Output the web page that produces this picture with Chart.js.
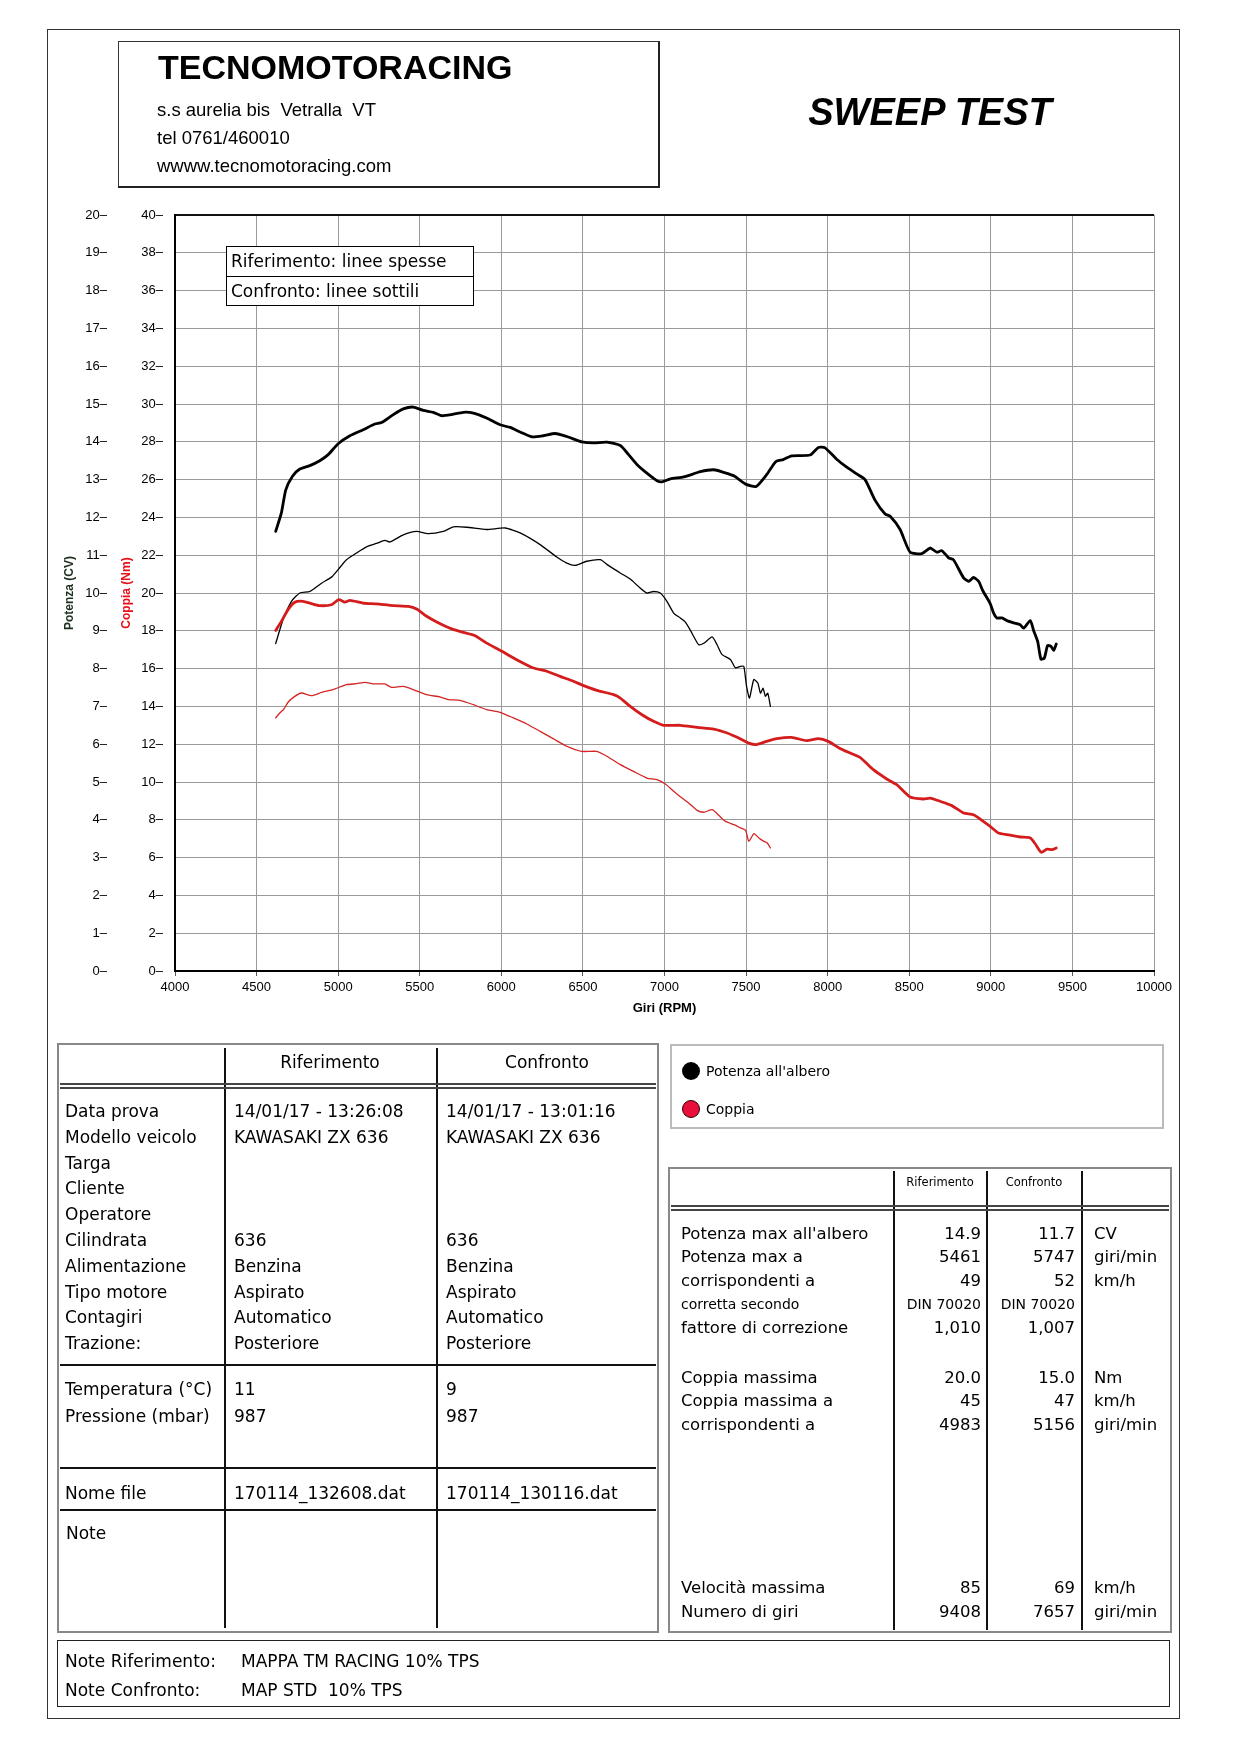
<!DOCTYPE html>
<html>
<head>
<meta charset="utf-8">
<script src="https://cdn.jsdelivr.net/npm/chart.js@4.4.0/dist/chart.umd.min.js"></script>
<style>
body { margin: 0; background: #fff; }
#page { position: relative; width: 1240px; height: 1754px; overflow: hidden; font-family: 'DejaVu Sans', sans-serif; color: #000; }
.t { position: absolute; white-space: pre; }
.b { position: absolute; box-sizing: border-box; }
#dyno { position: absolute; left: 50px; top: 195px; }
</style>
</head>
<body>
<div id="page"><canvas id="dyno" width="1129" height="829"></canvas></div>
<script>
// Riferimento (linee spesse)
const refPowerRpm = [4617,4652,4679,4720,4765,4826,4887,4939,5000,5072,5153,5225,5266,5338,5399,5460,5522,5583,5634,5696,5767,5829,5910,5992,6054,6115,6187,6258,6330,6401,6493,6565,6647,6729,6780,6831,6892,6954,6984,7036,7118,7220,7302,7364,7425,7497,7562,7626,7683,7728,7779,7892,7943,7984,8055,8117,8178,8229,8291,8352,8383,8444,8505,8577,8628,8669,8700,8741,8771,8833,8864,8894,8925,8951,8996,9017,9037,9068,9099,9140,9180,9201,9242,9262,9287,9307,9328,9348,9369,9385,9401];
const refPowerCv = [11.63,12.12,12.73,13.09,13.28,13.37,13.50,13.66,13.95,14.16,14.32,14.47,14.51,14.72,14.87,14.92,14.83,14.78,14.69,14.72,14.78,14.76,14.63,14.45,14.38,14.26,14.13,14.16,14.22,14.14,14.00,13.97,13.99,13.90,13.66,13.40,13.17,12.97,12.94,13.02,13.07,13.21,13.26,13.19,13.10,12.88,12.82,13.13,13.48,13.53,13.63,13.65,13.85,13.84,13.54,13.33,13.15,13.00,12.45,12.09,12.03,11.68,11.08,11.04,11.19,11.08,11.12,10.93,10.88,10.40,10.31,10.41,10.31,10.06,9.72,9.47,9.34,9.34,9.27,9.21,9.16,9.07,9.27,9.01,8.72,8.25,8.28,8.61,8.59,8.48,8.65];
const refTorqueRpm = [4617,4652,4693,4734,4785,4836,4887,4959,5004,5041,5072,5153,5235,5338,5430,5481,5542,5604,5696,5767,5839,5910,5992,6094,6197,6279,6360,6442,6504,6585,6688,6729,6790,6862,6933,6995,7097,7200,7302,7384,7466,7516,7562,7626,7687,7779,7871,7943,8004,8065,8127,8198,8280,8362,8423,8505,8587,8628,8689,8761,8833,8894,8945,8996,9047,9099,9180,9242,9273,9309,9344,9375,9401];
const refTorqueNm = [18.02,18.50,19.12,19.51,19.56,19.44,19.33,19.38,19.65,19.52,19.61,19.47,19.42,19.33,19.29,19.15,18.77,18.47,18.10,17.92,17.74,17.35,16.97,16.47,16.03,15.86,15.59,15.33,15.10,14.85,14.62,14.44,14.00,13.56,13.21,13.00,13.00,12.89,12.80,12.59,12.28,12.06,11.98,12.15,12.29,12.36,12.19,12.29,12.15,11.83,11.57,11.30,10.65,10.16,9.86,9.21,9.10,9.15,8.98,8.75,8.36,8.27,7.97,7.65,7.30,7.21,7.09,7.04,6.72,6.28,6.45,6.42,6.51];

// Confronto (linee sottili)
const confPowerRpm = [4617,4662,4714,4765,4826,4898,4959,5000,5051,5113,5174,5235,5286,5317,5399,5481,5552,5644,5706,5788,5910,6023,6115,6238,6340,6401,6452,6524,6606,6656,6729,6790,6851,6892,6933,6974,7015,7056,7097,7128,7159,7179,7210,7241,7292,7322,7353,7404,7435,7466,7486,7503,7521,7547,7572,7588,7604,7618,7633,7649];
const confPowerCv = [8.66,9.29,9.78,10.00,10.04,10.26,10.42,10.62,10.88,11.06,11.22,11.31,11.39,11.35,11.54,11.63,11.57,11.63,11.75,11.74,11.68,11.72,11.59,11.28,10.95,10.79,10.73,10.84,10.88,10.73,10.53,10.37,10.13,10.00,10.04,10.00,9.78,9.47,9.34,9.23,9.01,8.85,8.63,8.67,8.84,8.63,8.37,8.24,8.02,8.06,8.06,7.53,7.22,7.71,7.62,7.35,7.48,7.27,7.35,7.00];
const confTorqueRpm = [4617,4642,4667,4693,4734,4775,4836,4898,4969,5051,5113,5164,5215,5286,5327,5399,5460,5542,5624,5675,5747,5829,5910,5992,6074,6156,6238,6320,6401,6493,6585,6647,6729,6810,6892,6954,7005,7056,7107,7148,7200,7241,7292,7332,7373,7425,7466,7497,7517,7548,7578,7609,7630,7649];
const confTorqueNm = [13.39,13.65,13.86,14.22,14.53,14.71,14.57,14.74,14.89,15.15,15.20,15.27,15.19,15.19,15.01,15.06,14.89,14.62,14.50,14.36,14.32,14.09,13.83,13.69,13.39,13.07,12.68,12.28,11.89,11.62,11.62,11.36,10.92,10.56,10.21,10.12,9.89,9.51,9.15,8.89,8.50,8.40,8.54,8.24,7.92,7.74,7.57,7.44,6.86,7.27,7.04,6.86,6.77,6.51];

// Tabella prove
const infoLabels = ['Data prova','Modello veicolo','Targa','Cliente','Operatore','Cilindrata','Alimentazione','Tipo motore','Contagiri','Trazione:'];
const infoRef = ['14/01/17 - 13:26:08','KAWASAKI ZX 636','','','','636','Benzina','Aspirato','Automatico','Posteriore'];
const infoConf = ['14/01/17 - 13:01:16','KAWASAKI ZX 636','','','','636','Benzina','Aspirato','Automatico','Posteriore'];
const envLabels = ['Temperatura (°C)','Pressione (mbar)'];
const envRef = ['11','987'];
const envConf = ['9','987'];

// Risultati
const powerRows = [
    ["Potenza max all'albero", '14.9', '11.7', 'CV'],
    ['Potenza max a', '5461', '5747', 'giri/min'],
    ['corrispondenti a', '49', '52', 'km/h'],
    ['corretta secondo', 'DIN 70020', 'DIN 70020', ''],
    ['fattore di correzione', '1,010', '1,007', '']
];
const torqueRows = [
    ['Coppia massima', '20.0', '15.0', 'Nm'],
    ['Coppia massima a', '45', '47', 'km/h'],
    ['corrispondenti a', '4983', '5156', 'giri/min']
];
const speedRows = [
    ['Velocità massima', '85', '69', 'km/h'],
    ['Numero di giri', '9408', '7657', 'giri/min']
];

const page = document.getElementById('page');

function put(x, y, text, size, opt) {
    opt = opt || {};
    const d = document.createElement('div');
    const lh = Math.round(size * 1.3);
    d.className = 't';
    d.textContent = text;
    d.style.left = x + 'px';
    d.style.top = (y - lh / 2) + 'px';
    d.style.fontSize = size + 'px';
    d.style.lineHeight = lh + 'px';
    if (opt.font) d.style.fontFamily = opt.font;
    if (opt.bold) d.style.fontWeight = 'bold';
    if (opt.italic) d.style.fontStyle = 'italic';
    if (opt.color) d.style.color = opt.color;
    if (opt.z) d.style.zIndex = opt.z;
    if (opt.align === 'right') d.style.transform = 'translateX(-100%)';
    if (opt.align === 'center') d.style.transform = 'translateX(-50%)';
    page.appendChild(d);
}

function rect(x1, y1, x2, y2, css) {
    const d = document.createElement('div');
    d.className = 'b';
    d.style.left = x1 + 'px';
    d.style.top = y1 + 'px';
    d.style.width = (x2 - x1) + 'px';
    d.style.height = (y2 - y1) + 'px';
    Object.assign(d.style, css || {});
    page.appendChild(d);
    return d;
}

function hline(x1, x2, y, w, c) { return rect(x1, y, x2, y + w, { background: c || '#000' }); }
function vline(x, y1, y2, w, c) { return rect(x, y1, x + w, y2, { background: c || '#000' }); }

// Cornice esterna
rect(47, 29, 1180, 1719, { border: '1.5px solid #333' });

// Intestazione
rect(118, 41, 660, 188, { borderTop: '1px solid #333', borderLeft: '1px solid #333', borderRight: '2px solid #222', borderBottom: '2px solid #222' });
const arial = "'Liberation Sans', Arial, sans-serif";
put(158, 67, 'TECNOMOTORACING', 34, { font: arial, bold: true });
put(157, 110, 's.s aurelia bis  Vetralla  VT', 18.5, { font: arial });
put(157, 138, 'tel 0761/460010', 18.5, { font: arial });
put(157, 166, 'wwww.tecnomotoracing.com', 18.5, { font: arial });
put(930, 112, 'SWEEP TEST', 38, { font: arial, bold: true, italic: true, align: 'center' });

// Riquadro linee nel grafico
rect(226, 246, 474, 306, { border: '1px solid #000', background: '#fff', zIndex: 2 });
hline(226, 474, 276, 1, '#000').style.zIndex = 3;
put(231, 261, 'Riferimento: linee spesse', 17, { z: 4 });
put(231, 291, 'Confronto: linee sottili', 17, { z: 4 });

// Tabella sinistra
rect(57, 1043, 659, 1633, { border: '2px solid #888' });
vline(224, 1048, 1628, 1.5, '#111');
vline(436, 1048, 1628, 1.5, '#111');
hline(60, 656, 1083, 1.5, '#444');
hline(60, 656, 1087, 1.5, '#444');
hline(60, 656, 1364, 1.5, '#111');
hline(60, 656, 1467, 1.5, '#111');
hline(60, 656, 1509, 1.5, '#111');
put(330, 1062, 'Riferimento', 17, { align: 'center' });
put(547, 1062, 'Confronto', 17, { align: 'center' });
infoLabels.forEach((lab, i) => {
    const y = 1111 + i * 25.8;
    put(65, y, lab, 17);
    if (infoRef[i]) put(234, y, infoRef[i], 17);
    if (infoConf[i]) put(446, y, infoConf[i], 17);
});
envLabels.forEach((lab, i) => {
    const y = 1389 + i * 27;
    put(65, y, lab, 17);
    put(234, y, envRef[i], 17);
    put(446, y, envConf[i], 17);
});
put(65, 1493, 'Nome file', 17);
put(234, 1493, '170114_132608.dat', 17);
put(446, 1493, '170114_130116.dat', 17);
put(66, 1533, 'Note', 17);

// Legenda colori
rect(670, 1044, 1164, 1129, { border: '2px solid #bbb' });
rect(682, 1062, 700, 1080, { borderRadius: '50%', background: '#000' });
rect(682, 1100, 700, 1118, { borderRadius: '50%', background: '#e8103a', border: '1.5px solid #300' });
put(706, 1071, "Potenza all'albero", 14);
put(706, 1109, 'Coppia', 14);

// Tabella risultati
rect(668, 1167, 1172, 1633, { border: '2px solid #888' });
vline(893, 1171, 1630, 1.5, '#111');
vline(986, 1171, 1630, 1.5, '#111');
vline(1081, 1171, 1630, 1.5, '#111');
hline(671, 1169, 1205, 1.5, '#444');
hline(671, 1169, 1209, 1.5, '#444');
put(940, 1182, 'Riferimento', 11.5, { align: 'center' });
put(1034, 1182, 'Confronto', 11.5, { align: 'center' });
function resultRows(rows, y0, step) {
    rows.forEach((r, i) => {
        const y = y0 + i * step;
        const small = r[0] === 'corretta secondo';
        const s = small ? 14 : 16.5;
        put(681, y, r[0], s);
        put(981, y, r[1], s, { align: 'right' });
        put(1075, y, r[2], s, { align: 'right' });
        if (r[3]) put(1094, y, r[3], 16.5);
    });
}
resultRows(powerRows, 1233, 23.5);
resultRows(torqueRows, 1377, 23.5);
resultRows(speedRows, 1587, 24);

// Note
rect(57, 1640, 1170, 1707, { border: '1.5px solid #222' });
put(65, 1661, 'Note Riferimento:', 17);
put(241, 1661, 'MAPPA TM RACING 10% TPS', 17);
put(65, 1690, 'Note Confronto:', 17);
put(241, 1690, 'MAP STD  10% TPS', 17);

// Grafico
function pts(xs, ys) {
    return xs.map((x, i) => ({ x: x, y: ys[i] }));
}

const tickFont = { family: 'Liberation Sans', size: 13 };

new Chart(document.getElementById('dyno'), {
    type: 'line',
    data: {
        datasets: [
            { label: 'Potenza rif.', data: pts(refPowerRpm, refPowerCv), yAxisID: 'yCv', borderColor: '#000', borderWidth: 2.8 },
            { label: 'Coppia rif.', data: pts(refTorqueRpm, refTorqueNm), yAxisID: 'yNm', borderColor: '#d41c1c', borderWidth: 2.8 },
            { label: 'Potenza conf.', data: pts(confPowerRpm, confPowerCv), yAxisID: 'yCv', borderColor: '#000', borderWidth: 1.3 },
            { label: 'Coppia conf.', data: pts(confTorqueRpm, confTorqueNm), yAxisID: 'yNm', borderColor: '#d42424', borderWidth: 1.3 }
        ]
    },
    options: {
        responsive: false,
        animation: false,
        layout: { padding: { left: 0, top: 20, right: 25, bottom: 5 } },
        elements: {
            point: { radius: 0 },
            line: { tension: 0.2, borderCapStyle: 'round', borderJoinStyle: 'round', fill: false }
        },
        plugins: {
            legend: { display: false },
            tooltip: { enabled: false }
        },
        scales: {
            x: {
                type: 'linear',
                min: 4000,
                max: 10000,
                ticks: {
                    stepSize: 500,
                    autoSkip: false,
                    maxRotation: 0,
                    padding: 4,
                    color: '#000',
                    font: tickFont,
                    callback: v => String(v)
                },
                grid: { color: '#9a9a9a', lineWidth: 1, drawTicks: true, tickLength: 5, tickColor: '#555' },
                border: { display: true, color: '#000', width: 2 },
                title: {
                    display: true,
                    text: 'Giri (RPM)',
                    color: '#000',
                    font: { family: 'Liberation Sans', size: 13, weight: 'bold' },
                    padding: { top: 0, bottom: 3 }
                },
                afterFit: scale => { scale.height = 48; }
            },
            yNm: {
                type: 'linear',
                position: 'left',
                weight: 0,
                min: 0,
                max: 40,
                ticks: {
                    stepSize: 2,
                    autoSkip: false,
                    padding: 12,
                    color: '#000',
                    font: tickFont,
                    callback: v => v + '\u2013'
                },
                grid: {
                    drawTicks: false,
                    color: ctx => (ctx.tick && ctx.tick.value === 40) ? '#111' : '#9a9a9a',
                    lineWidth: ctx => (ctx.tick && ctx.tick.value === 40) ? 2 : 1
                },
                border: { display: true, color: '#000', width: 2 },
                title: {
                    display: true,
                    text: 'Coppia (Nm)',
                    color: '#e8101a',
                    font: { family: 'Liberation Sans', size: 12, weight: 'bold' },
                    padding: { top: 8, bottom: 0 }
                },
                afterFit: scale => { scale.width = 64; }
            },
            yCv: {
                type: 'linear',
                position: 'left',
                weight: 1,
                min: 0,
                max: 20,
                ticks: {
                    stepSize: 1,
                    autoSkip: false,
                    padding: 4,
                    color: '#000',
                    font: tickFont,
                    callback: v => v + '\u2013'
                },
                grid: { display: false, drawTicks: false },
                border: { display: false },
                title: {
                    display: true,
                    text: 'Potenza (CV)',
                    color: '#1c2e1c',
                    font: { family: 'Liberation Sans', size: 12, weight: 'bold' },
                    padding: { top: 12, bottom: 0 }
                },
                afterFit: scale => { scale.width = 61; }
            }
        }
    }
});
</script>
</body>
</html>
